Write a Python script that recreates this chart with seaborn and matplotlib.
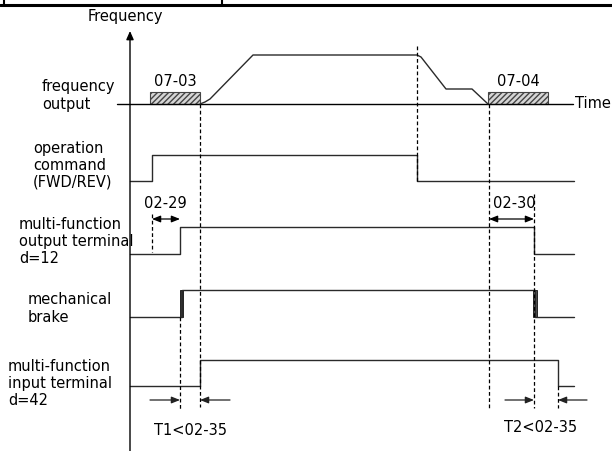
import pandas as pd
import seaborn as sns
import matplotlib.pyplot as plt
from matplotlib.patches import Rectangle

# ===============================
# timing data (diagram time units, left -> right)
# ===============================
t_axis = 130
t_end = 574
t_run = 152
t_out_on = 180
t_brake_on = 182
t_in_on = 200
t_stop = 417
t_zero = 489
t_out_off = 534
t_brake_off = 535
t_in_off = 558

# frequency output profile (time, height above zero)
freq_t = [200, 205, 210, 253, 417, 421, 446, 472, 488]
freq_v = [0, 2, 5, 49, 49, 47, 15, 15, 0]

# DC brake windows 07-03 / 07-04
dc_names = ["07-03", "07-04"]
dc_start = [150, 488]
dc_stop = [200, 548]

# step signals: edges and levels
sig_names = ["op", "out", "brake", "inp"]
sig_edges = [
    [t_axis, t_run, t_stop, t_end],
    [t_axis, t_out_on, t_out_off, t_end],
    [t_axis, t_brake_on, t_brake_off, t_end],
    [t_axis, t_in_on, t_in_off, t_end],
]
sig_levels = [[0, 1, 0], [0, 1, 0], [0, 1, 0], [0, 1, 0]]

row_labels = [
    ["frequency", "output"],
    ["operation", "command", "(FWD/REV)"],
    ["multi-function", "output terminal", "d=12"],
    ["mechanical", "brake"],
    ["multi-function", "input terminal", "d=42"],
]

# ===============================
# layout (pixel space of the page)
# ===============================
freq_base = 105
row_base = {"op": 182, "out": 255, "brake": 318, "inp": 387}
row_amp = {"op": 26, "out": 27, "brake": 27, "inp": 26}
label_pos = [(42, 91), (33, 153), (19, 229), (28, 304), (8, 371)]
label_gap = [18, 17, 17, 18, 17]

sns.set_theme(style="white")
plt.rcParams["font.family"] = ["DejaVu Sans"]
plt.rcParams["text.color"] = "black"

fig = plt.figure(figsize=(6.12, 4.52), dpi=100)
ax = fig.add_axes([0, 0, 1, 1])
ax.set_xlim(0, 612)
ax.set_ylim(452, 0)
ax.axis("off")

line_c = "#2a2a2a"
fs = 10.5

# page frame at top
ax.plot([0, 612], [6, 6], color="black", lw=2.2)
for xv in [4, 222]:
    ax.plot([xv, xv], [0, 6], color="black", lw=1.5)

# vertical frequency axis with arrow
ax.annotate("", xy=(t_axis, 32), xytext=(t_axis, 452),
            arrowprops=dict(arrowstyle="-|>,head_length=0.5,head_width=0.22",
                            color="black", lw=1.0, shrinkA=0, shrinkB=0,
                            mutation_scale=10))
ax.text(88, 21, "Frequency", fontsize=fs, ha="left", va="baseline")

# time baseline
ax.plot([117, 573], [freq_base, freq_base], color="black", lw=1.0)
ax.text(575, 103, "Time", fontsize=fs, ha="left", va="center")

# DC brake boxes
for name, a, b in zip(dc_names, dc_start, dc_stop):
    ax.add_patch(Rectangle((a, freq_base - 12), b - a, 12, facecolor="#d6d6d6",
                           edgecolor="#444444", hatch="//////", lw=0.8))
    ax.text((a + b) / 2, 86, name, fontsize=fs, ha="center", va="baseline")

# frequency curve
freq_df = pd.DataFrame({"t": freq_t, "y": [freq_base - v for v in freq_v]})
sns.lineplot(data=freq_df, x="t", y="y", estimator=None, sort=False,
             color=line_c, lw=1.0, ax=ax)

# step signals
for name, edges, lv in zip(sig_names, sig_edges, sig_levels):
    xs, ys = [], []
    base, amp = row_base[name], row_amp[name]
    for i, level in enumerate(lv):
        y = base - amp * level
        xs += [edges[i], edges[i + 1]]
        ys += [y, y]
    sdf = pd.DataFrame({"t": xs, "y": ys})
    sns.lineplot(data=sdf, x="t", y="y", estimator=None, sort=False,
                 color=line_c, lw=1.0, ax=ax)

# brake transition bars
bb = row_base["brake"]
ba = row_amp["brake"]
ax.add_patch(Rectangle((t_out_on, bb - ba), 3, ba, facecolor="#333333",
                       edgecolor="#111111", lw=0.6))
ax.add_patch(Rectangle((t_out_off - 1, bb - ba), 4, ba, facecolor="#555555",
                       edgecolor="#111111", lw=0.6))

# dashed guides
dash = dict(color="black", lw=0.9, ls=(0, (3, 2)))
guides = [
    (t_in_on, freq_base, 408),
    (t_stop, 47, row_base["op"]),
    (t_zero, freq_base, 409),
    (t_run, 215, row_base["out"] - 2),
    (t_out_on, row_base["brake"], 410),
    (t_out_off, 195, 409),
    (t_in_off, row_base["inp"], 409),
]
for xv, y0, y1 in guides:
    ax.plot([xv, xv], [y0, y1], **dash)

# row labels
for lines, (lx, ly), gap in zip(row_labels, label_pos, label_gap):
    for k, s in enumerate(lines):
        ax.text(lx, ly + k * gap, s, fontsize=fs, ha="left", va="baseline")

# interval arrows
arr2 = dict(arrowstyle="<|-|>,head_length=0.5,head_width=0.2", color="black",
            lw=0.9, shrinkA=0, shrinkB=0, mutation_scale=10)
arr1 = dict(arrowstyle="-|>,head_length=0.5,head_width=0.2", color="#222222",
            lw=0.9, shrinkA=0, shrinkB=0, mutation_scale=10)
ax.annotate("", xy=(t_out_on, 220), xytext=(t_run, 220), arrowprops=arr2)
ax.annotate("", xy=(t_out_off, 220), xytext=(t_zero, 220), arrowprops=arr2)
ax.text(165, 208, "02-29", fontsize=fs, ha="center", va="baseline")
ax.text(514, 208, "02-30", fontsize=fs, ha="center", va="baseline")

ax.annotate("", xy=(t_out_on, 401), xytext=(150, 401), arrowprops=arr1)
ax.annotate("", xy=(t_in_on, 401), xytext=(230, 401), arrowprops=arr1)
ax.annotate("", xy=(t_out_off, 401), xytext=(505, 401), arrowprops=arr1)
ax.annotate("", xy=(t_in_off, 401), xytext=(587, 401), arrowprops=arr1)
ax.text(190, 435, "T1<02-35", fontsize=fs, ha="center", va="baseline")
ax.text(541, 432, "T2<02-35", fontsize=fs, ha="center", va="baseline")

fig.savefig("out.png", dpi=100)
